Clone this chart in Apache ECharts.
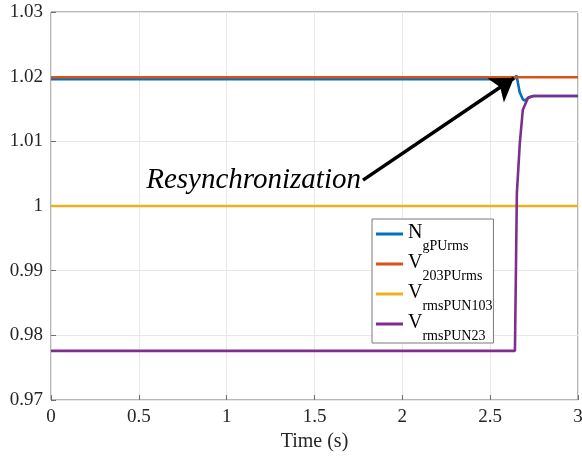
<!DOCTYPE html>
<html>
<head>
<meta charset="utf-8">
<script src="https://cdn.jsdelivr.net/npm/echarts@6/dist/echarts.min.js"></script>
<style>html,body{margin:0;padding:0;background:#fff;}#c{width:582px;height:462px;}</style>
</head>
<body>
<div id="c"></div>
<script>
// ---- data ----
const tNg = [0, 2.635, 2.650, 2.660, 2.668, 2.686, 2.698, 2.720, 2.750, 3];
const NgPUrms = [1.0196, 1.0196, 1.0202, 1.0201, 1.0176, 1.0165, 1.0163, 1.0168, 1.0170, 1.0170];
const tFlat = [0, 3];
const V203PUrms = [1.0199, 1.0199];
const VrmsPUN103 = [1.0, 1.0];
const tP23 = [0, 2.641, 2.652, 2.669, 2.686, 2.715, 2.743, 2.780, 3];
const VrmsPUN23 = [0.9776, 0.9776, 1.0020, 1.0098, 1.0149, 1.0167, 1.0170, 1.0170, 1.0170];
const xTicks = [0, 0.5, 1, 1.5, 2, 2.5, 3];
const yTicks = [0.97, 0.98, 0.99, 1.0, 1.01, 1.02, 1.03];
const arrowFrom = [1.776, 1.0040];
const arrowTo = [2.635, 1.0198];
const annotation = 'Resynchronization';
const names = ['NgPUrms', 'V203PUrms', 'VrmsPUN103', 'VrmsPUN23'];
const legendMain = {NgPUrms: 'N', V203PUrms: 'V', VrmsPUN103: 'V', VrmsPUN23: 'V'};
const legendSub = {NgPUrms: 'gPUrms', V203PUrms: '203PUrms', VrmsPUN103: 'rmsPUN103', VrmsPUN23: 'rmsPUN23'};
const colors = ['#0072BD', '#D95319', '#EDB120', '#7E2F8E'];

const zip = (t, v) => t.map((x, i) => [x, v[i]]);
const FONT = '"Liberation Serif", "Times New Roman", serif';

const chart = echarts.init(document.getElementById('c'), null, {renderer: 'canvas'});
const mkSeries = (name, data, color, z) => ({
  name, type: 'line', data, showSymbol: false, symbol: 'none', z,
  lineStyle: {color, width: 2.6}, itemStyle: {color}, animation: false
});
const s = [
  mkSeries(names[0], zip(tNg, NgPUrms), colors[0], 2),
  mkSeries(names[1], zip(tFlat, V203PUrms), colors[1], 2),
  mkSeries(names[2], zip(tFlat, VrmsPUN103), colors[2], 2),
  mkSeries(names[3], zip(tP23, VrmsPUN23), colors[3], 2)
];
s[2].markLine = {
  silent: true, animation: false,
  symbol: ['none', 'arrow'], symbolSize: 22,
  lineStyle: {color: '#000', width: 3.5, type: 'solid'},
  label: {show: false},
  data: [[{coord: arrowFrom}, {coord: arrowTo}]]
};
s[2].markPoint = {
  silent: true, animation: false,
  symbol: 'circle', symbolSize: 0,
  data: [{coord: arrowFrom}],
  label: {show: true, position: 'left', distance: 2, formatter: annotation,
    fontFamily: FONT, fontStyle: 'italic', fontSize: 29, color: '#000'}
};

const option = {
  backgroundColor: '#fff',
  animation: false,
  grid: {left: 51, right: 4, top: 12, bottom: 62, show: true, borderColor: '#6e6e6e', borderWidth: 1,
    containLabel: false, outerBoundsMode: 'none'},
  xAxis: {
    type: 'value', min: 0, max: 3, interval: 0.5,
    name: 'Time (s)', nameLocation: 'middle', nameGap: 29,
    nameTextStyle: {fontFamily: FONT, fontSize: 20, color: '#262626'},
    axisLine: {show: false},
    axisTick: {show: true, inside: true, length: 5, lineStyle: {color: '#6e6e6e'}},
    axisLabel: {fontFamily: FONT, fontSize: 19, color: '#262626', margin: 8,
      formatter: v => String(+v.toFixed(1))},
    splitLine: {show: true, lineStyle: {color: '#e8e8e8', width: 1}}
  },
  yAxis: {
    type: 'value', min: 0.97, max: 1.03, interval: 0.01,
    axisLine: {show: false},
    axisTick: {show: true, inside: true, length: 5, lineStyle: {color: '#6e6e6e'}},
    axisLabel: {fontFamily: FONT, fontSize: 19, color: '#262626', margin: 8,
      formatter: v => String(+v.toFixed(2))},
    splitLine: {show: true, lineStyle: {color: '#e8e8e8', width: 1}}
  },
  legend: {
    orient: 'vertical', left: 372, top: 219,
    data: names,
    icon: 'rect',
    itemWidth: 27, itemHeight: 3, itemGap: 0,
    padding: [4, 1, 0, 4],
    borderColor: '#7a7a7a', borderWidth: 1, backgroundColor: '#fff',
    formatter: n => '{m|' + legendMain[n] + '}{s|' + legendSub[n] + '}',
    textStyle: {
      fontFamily: FONT, color: '#000',
      rich: {
        m: {fontFamily: FONT, fontSize: 20, lineHeight: 22, verticalAlign: 'top', color: '#000'},
        s: {fontFamily: FONT, fontSize: 14, lineHeight: 14, padding: [16, 0, 0, 0], verticalAlign: 'top', color: '#000'}
      }
    }
  },
  series: s
};
chart.setOption(option);
</script>
</body>
</html>
